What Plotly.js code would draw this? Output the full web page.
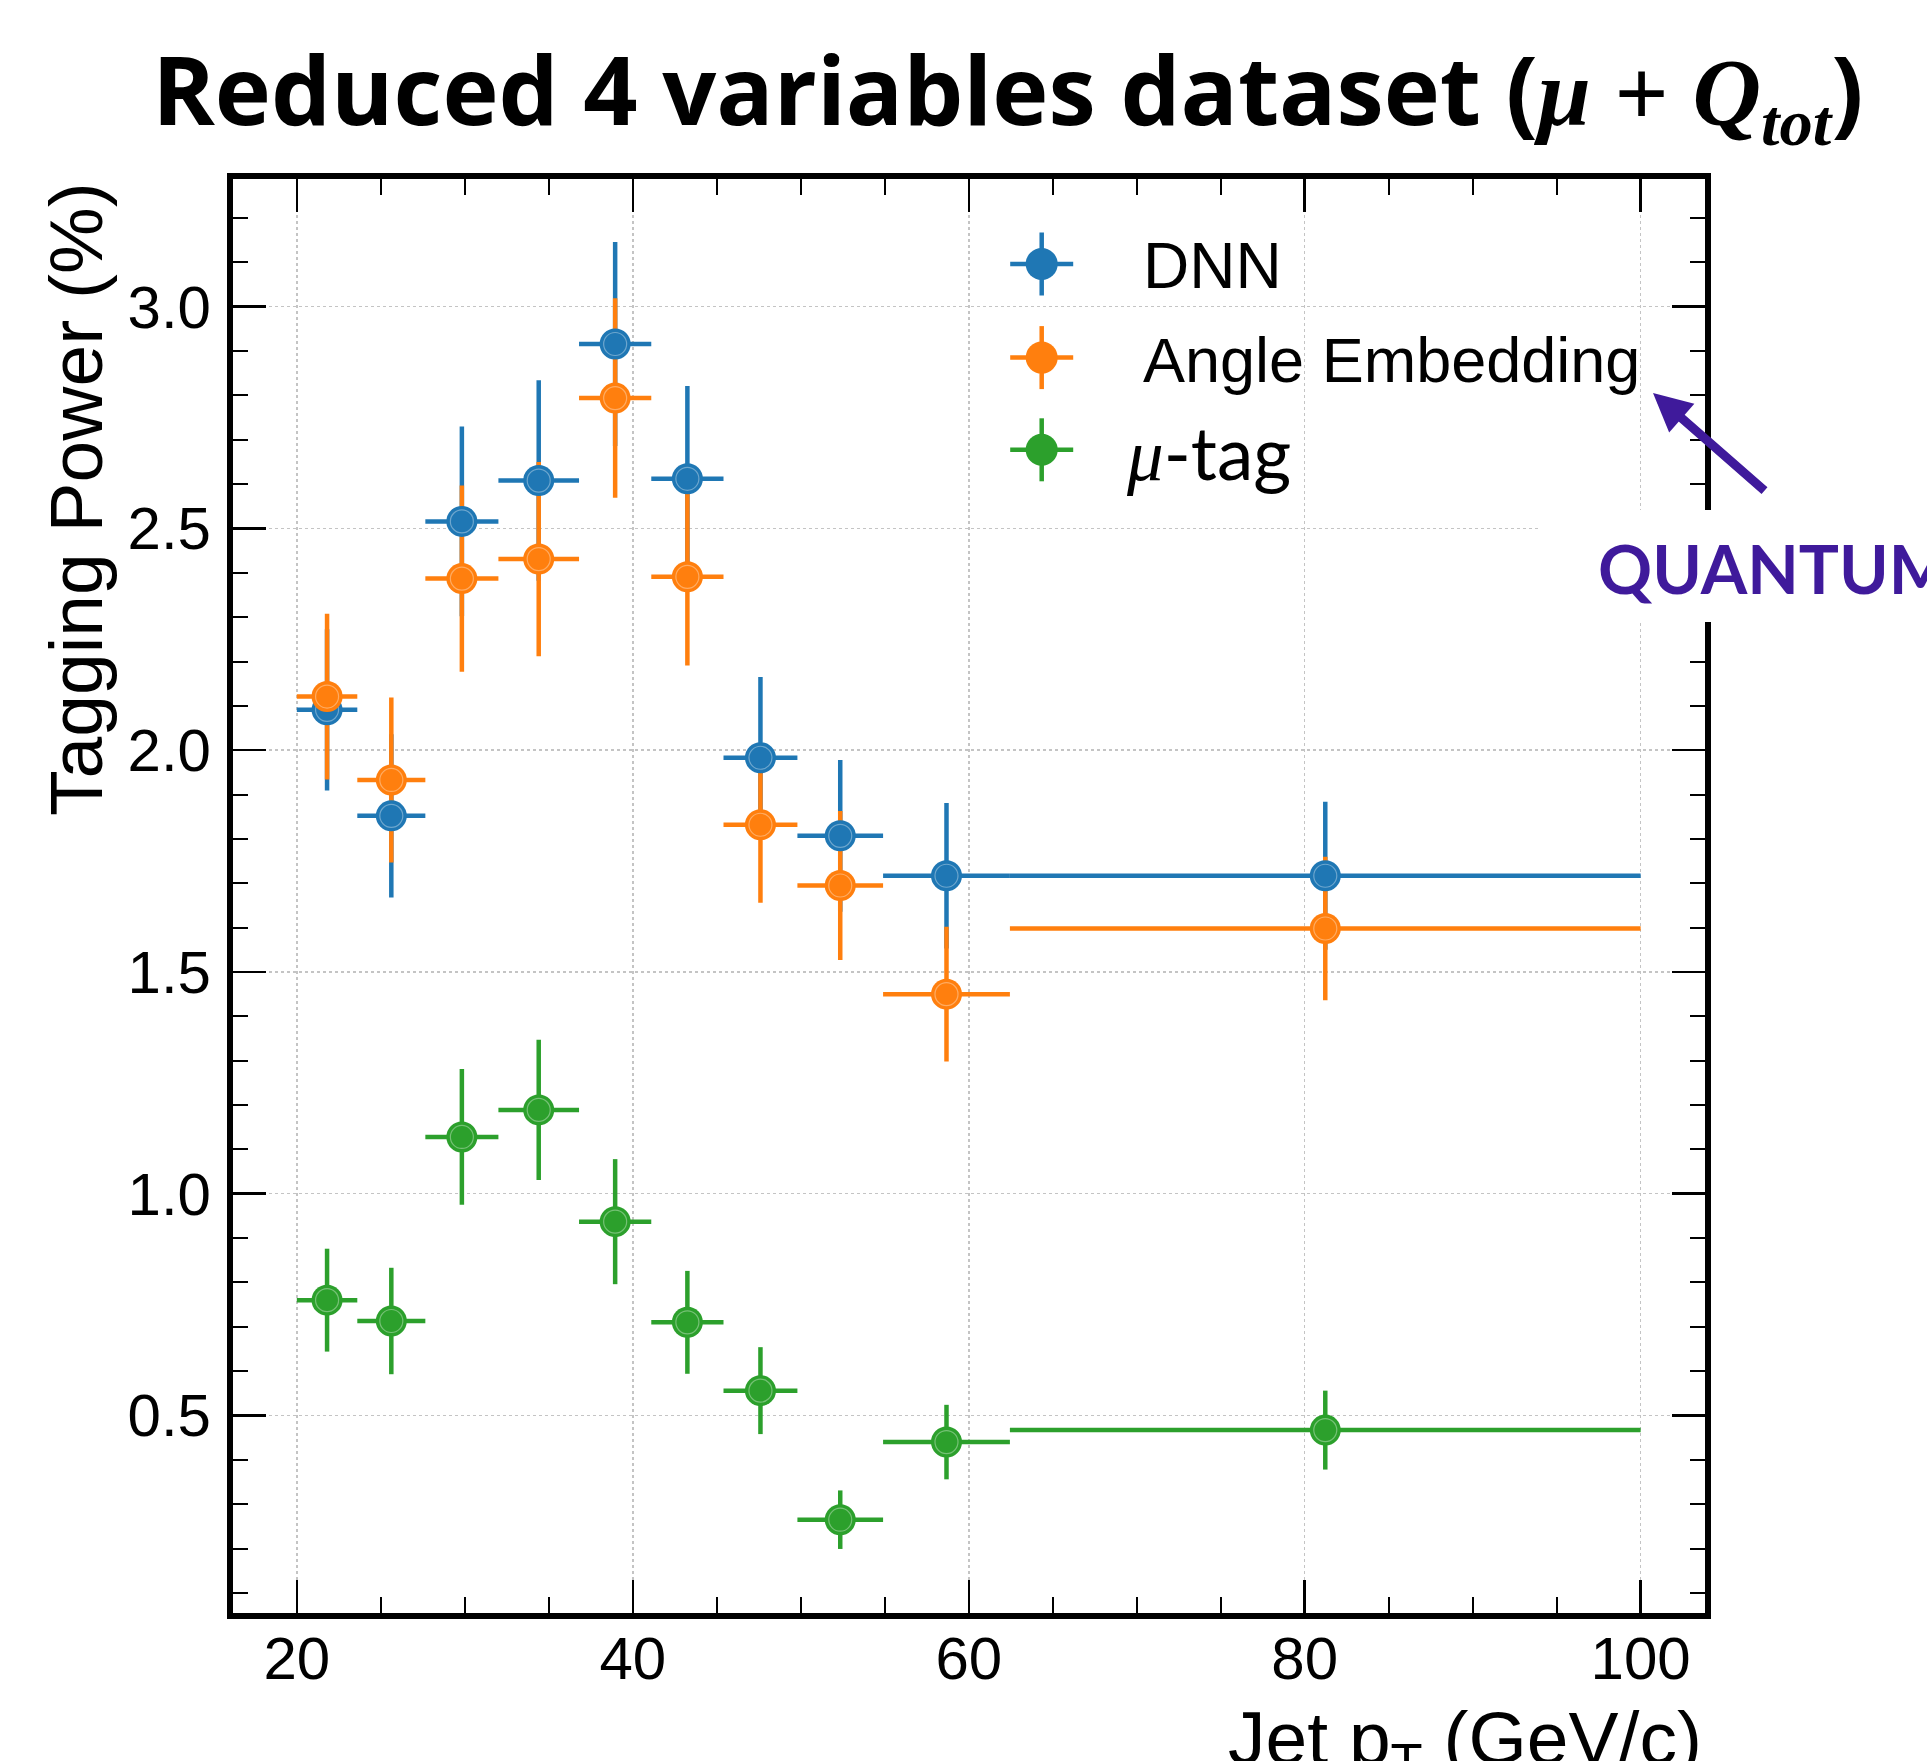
<!DOCTYPE html>
<html>
<head>
<meta charset="utf-8">
<script src="https://cdn.plot.ly/plotly-3.0.1.min.js"></script>
<style>html,body{margin:0;padding:0;background:#fff;}#chart{width:1927px;height:1761px;}</style>
</head>
<body>
<div id="chart"></div>
<script>
// ---- data ----
const binEdges = [20, 23.6, 27.65, 32.0, 36.8, 41.1, 45.4, 49.8, 54.9, 62.45, 100];
const dnnValues = [2.091, 1.852, 2.516, 2.608, 2.916, 2.612, 1.983, 1.807, 1.717, 1.717];
const dnnErrors = [0.182, 0.184, 0.214, 0.226, 0.230, 0.209, 0.182, 0.171, 0.164, 0.167];
const angleValues = [2.121, 1.933, 2.387, 2.431, 2.794, 2.391, 1.832, 1.695, 1.450, 1.598];
const angleErrors = [0.187, 0.186, 0.210, 0.219, 0.225, 0.200, 0.176, 0.168, 0.152, 0.162];
const mutagValues = [0.760, 0.713, 1.128, 1.189, 0.937, 0.710, 0.556, 0.265, 0.440, 0.467];
const mutagErrors = [0.116, 0.120, 0.153, 0.158, 0.141, 0.116, 0.098, 0.066, 0.084, 0.089];
const seriesNames = ['DNN', 'Angle Embedding', '\u03bc-tag'];
const xTickVals = [20, 40, 60, 80, 100];
const yTickVals = [0.5, 1.0, 1.5, 2.0, 2.5, 3.0];

// ---- derived bin centres / half widths ----
const binCenters = binEdges.slice(0, -1).map((e, i) => (e + binEdges[i + 1]) / 2);
const binHalf = binEdges.slice(0, -1).map((e, i) => (binEdges[i + 1] - e) / 2);

const colors = ['#1f77b4', '#ff7f0e', '#2ca02c'];
const values = [dnnValues, angleValues, mutagValues];
const errors = [dnnErrors, angleErrors, mutagErrors];

const traces = [];
// error bars first (all series), then markers on top, like matplotlib zorder
values.forEach((v, k) => {
  traces.push({
    type: 'scatter', mode: 'markers', x: binCenters, y: v, name: seriesNames[k],
    showlegend: false, hoverinfo: 'skip',
    marker: {size: 2, color: 'rgba(0,0,0,0)'},
    error_x: {type: 'data', array: binHalf, symmetric: true, color: colors[k], thickness: 4.5, width: 0},
    error_y: {type: 'data', array: errors[k], symmetric: true, color: colors[k], thickness: 4.5, width: 0}
  });
});
values.forEach((v, k) => {
  traces.push({
    type: 'scatter', mode: 'markers', x: binCenters, y: v, name: seriesNames[k],
    showlegend: false,
    marker: {size: 31, color: colors[k], line: {width: 0}}
  });
  traces.push({
    type: 'scatter', mode: 'markers', x: binCenters, y: v, showlegend: false, hoverinfo: 'skip',
    marker: {size: 23, symbol: 'circle-open', color: 'rgba(255,255,255,0.35)', line: {width: 1.2, color: 'rgba(255,255,255,0.35)'}}
  });
});

// plot area in pixels: l=233, r=222, t=179, b=148  (1472 x 1434)
const PX = px => (px - 233) / 1472;
const PY = py => (1613 - py) / 1434;

const shapes = [];
const annotations = [];
// hand-drawn legend glyphs (marker with crossing error bars)
const legendY = [264, 357.6, 449.8];
const legendX = 1041.7;
seriesNames.forEach((n, k) => {
  const base = {xref: 'paper', yref: 'paper', xsizemode: 'pixel', ysizemode: 'pixel',
    xanchor: PX(legendX), yanchor: PY(legendY[k])};
  shapes.push(Object.assign({type: 'line', x0: -31.5, x1: 31.5, y0: 0, y1: 0,
    line: {color: colors[k], width: 4.5}}, base));
  shapes.push(Object.assign({type: 'line', x0: 0, x1: 0, y0: -31.5, y1: 31.5,
    line: {color: colors[k], width: 4.5}}, base));
  shapes.push(Object.assign({type: 'circle', x0: -16, x1: 16, y0: -16, y1: 16,
    fillcolor: colors[k], line: {width: 0}}, base));
});
annotations.push({xref: 'paper', yref: 'paper', x: PX(1141), y: PY(legendY[0] + 2), xanchor: 'left', yanchor: 'middle',
  text: seriesNames[0], showarrow: false, font: {family: 'Liberation Sans', size: 64, color: '#000'}});
annotations.push({xref: 'paper', yref: 'paper', x: PX(1141), y: PY(legendY[1] + 2), xanchor: 'left', yanchor: 'middle',
  text: seriesNames[1], showarrow: false, font: {family: 'Liberation Sans', size: 63, color: '#000'}});
annotations.push({xref: 'paper', yref: 'paper', x: PX(1124), y: PY(legendY[2] + 2), xanchor: 'left', yanchor: 'middle',
  text: '<span style="font-family:\'Liberation Serif\'"><i>\u03bc</i></span>-tag', showarrow: false,
  font: {family: 'Lato', size: 73, color: '#000'}});

// white patch behind the QUANTUM label (covers frame edge)
shapes.push({type: 'rect', xref: 'paper', yref: 'paper', layer: 'above',
  x0: PX(1541), x1: PX(1940), y0: PY(622), y1: PY(510), fillcolor: '#ffffff', line: {width: 0}});
annotations.push({xref: 'paper', yref: 'paper', x: PX(1596), y: PY(568), xanchor: 'left', yanchor: 'middle',
  text: '<b>QUANTUM</b>', showarrow: false, font: {family: 'Lato', size: 67, color: '#3f1a9b'}});
// arrow
annotations.push({xref: 'paper', yref: 'paper', x: PX(1653), y: PY(393), text: '', showarrow: true,
  ax: 113, ay: 99, arrowcolor: '#3f1a9b', arrowwidth: 9, arrowhead: 2, arrowsize: 0.85, standoff: 0});

// axis titles (placed like mplhep: y at top, x at right)
annotations.push({xref: 'paper', yref: 'paper', x: PX(76), y: PY(180), xanchor: 'center', yanchor: 'top',
  textangle: -90, text: 'Tagging Power (%)', showarrow: false, font: {family: 'Liberation Sans', size: 75, color: '#000'}});
annotations.push({xref: 'paper', yref: 'paper', x: PX(1704), y: PY(1694), xanchor: 'right', yanchor: 'top',
  text: 'Jet p<sub>T</sub> (GeV/c)', showarrow: false, font: {family: 'Liberation Sans', size: 75, color: '#000'}});

const axisCommon = {
  showline: true, linecolor: '#000', linewidth: 6, mirror: 'allticks',
  ticks: 'inside', ticklen: 33, tickwidth: 2.5, tickcolor: '#000',
  showgrid: true, gridcolor: '#c4c4c4', gridwidth: 1.5, griddash: 'dot',
  zeroline: false, tickfont: {family: 'Liberation Sans', size: 60, color: '#000'}
};

const layout = {
  width: 1927, height: 1761,
  paper_bgcolor: '#fff', plot_bgcolor: '#fff',
  margin: {l: 233, r: 222, t: 179, b: 148, pad: 0},
  showlegend: false,
  title: {
    text: '<b>Reduced 4 variables dataset (<span style="font-family:\'Liberation Serif\'"><i>\u03bc</i> + <i>Q</i><sub><i>tot</i></sub></span>)</b>',
    font: {family: 'Open Sans', size: 95, color: '#000'},
    x: 0.523, xanchor: 'center', xref: 'container', y: 0.948, yanchor: 'middle', yref: 'container'
  },
  xaxis: Object.assign({}, axisCommon, {
    range: [16.2, 103.83], tickmode: 'array', tickvals: xTickVals, ticktext: xTickVals.map(String),
    ticklabelstandoff: -12,
    minor: {dtick: 5, tick0: 0, ticks: 'inside', ticklen: 16, tickwidth: 2, tickcolor: '#000', showgrid: false}
  }),
  yaxis: Object.assign({}, axisCommon, {
    range: [0.0546, 3.288], tickmode: 'array', tickvals: yTickVals, ticktext: yTickVals.map(v => v.toFixed(1)),
    ticklabelstandoff: 4,
    minor: {dtick: 0.1, tick0: 0, ticks: 'inside', ticklen: 15, tickwidth: 2, tickcolor: '#000', showgrid: false}
  }),
  shapes: shapes,
  annotations: annotations
};

Plotly.newPlot('chart', traces, layout, {displayModeBar: false, staticPlot: true});
</script>
</body>
</html>
